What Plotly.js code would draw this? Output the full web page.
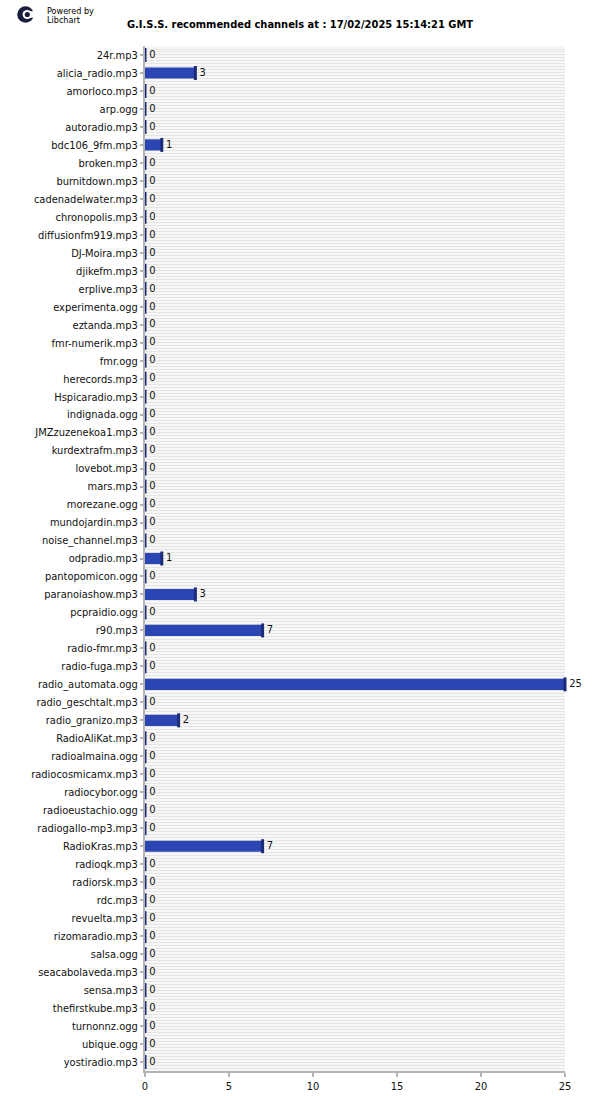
<!DOCTYPE html>
<html>
<head>
<meta charset="utf-8">
<script src="https://cdn.plot.ly/plotly-3.0.1.min.js"></script>
<style>html,body{margin:0;padding:0;background:#fff;}#chart{width:600px;height:1096px;}</style>
</head>
<body>
<div id="chart"></div>
<script>
const channels = ["24r.mp3","alicia_radio.mp3","amorloco.mp3","arp.ogg","autoradio.mp3","bdc106_9fm.mp3","broken.mp3","burnitdown.mp3","cadenadelwater.mp3","chronopolis.mp3","diffusionfm919.mp3","DJ-Moira.mp3","djikefm.mp3","erplive.mp3","experimenta.ogg","eztanda.mp3","fmr-numerik.mp3","fmr.ogg","herecords.mp3","Hspicaradio.mp3","indignada.ogg","JMZzuzenekoa1.mp3","kurdextrafm.mp3","lovebot.mp3","mars.mp3","morezane.ogg","mundojardin.mp3","noise_channel.mp3","odpradio.mp3","pantopomicon.ogg","paranoiashow.mp3","pcpraidio.ogg","r90.mp3","radio-fmr.mp3","radio-fuga.mp3","radio_automata.ogg","radio_geschtalt.mp3","radio_granizo.mp3","RadioAliKat.mp3","radioalmaina.ogg","radiocosmicamx.mp3","radiocybor.ogg","radioeustachio.ogg","radiogallo-mp3.mp3","RadioKras.mp3","radioqk.mp3","radiorsk.mp3","rdc.mp3","revuelta.mp3","rizomaradio.mp3","salsa.ogg","seacabolaveda.mp3","sensa.mp3","thefirstkube.mp3","turnonnz.ogg","ubique.ogg","yostiradio.mp3"];
const counts = [0,3,0,0,0,1,0,0,0,0,0,0,0,0,0,0,0,0,0,0,0,0,0,0,0,0,0,0,1,0,3,0,7,0,0,25,0,2,0,0,0,0,0,0,7,0,0,0,0,0,0,0,0,0,0,0,0];
const xTicks = [0,5,10,15,20,25];
const titleText = "G.I.S.S. recommended channels at : 17/02/2025 15:14:21 GMT";

const font = "DejaVu Sans Condensed, DejaVu Sans, sans-serif";

const bars = {
  type: "bar", orientation: "h", x: counts, y: channels,
  width: 0.62,
  marker: {color: "#2b45b2", line: {width: 0}},
  hoverinfo: "skip", showlegend: false
};
const caps = {
  type: "scatter", mode: "markers", x: counts, y: channels,
  marker: {symbol: "line-ns", size: 10, color: "#1c2c78", line: {width: 3, color: "#1c2c78"}},
  cliponaxis: false, hoverinfo: "skip", showlegend: false
};
const labels = {
  type: "scatter", mode: "markers+text", x: counts, y: channels,
  text: counts.map(String), textposition: "middle right",
  textfont: {family: font, size: 11, color: "#111"},
  marker: {size: 5, color: "rgba(0,0,0,0)"},
  cliponaxis: false, hoverinfo: "skip", showlegend: false
};

const logoSvg = '<svg xmlns="http://www.w3.org/2000/svg" viewBox="0 0 17 21"><circle cx="8.5" cy="10.5" r="8.3" fill="#1b1f3e"/><circle cx="10.2" cy="10.5" r="4.6" fill="#fff"/><rect x="12" y="7.2" width="6" height="6.6" fill="#fff"/><circle cx="10.3" cy="10.5" r="2.6" fill="#1b1f3e"/></svg>';

const layout = {
  width: 600, height: 1096,
  margin: {l: 145, r: 35, t: 46, b: 25, pad: 0},
  paper_bgcolor: "#ffffff",
  plot_bgcolor: "#f7f7f7",
  font: {family: font, size: 11, color: "#222"},
  title: {text: "<b>" + titleText + "</b>", font: {family: font, size: 11, color: "#000"},
          x: 0.5, xanchor: "center", y: 1 - 24/1096, yanchor: "middle"},
  xaxis: {range: [0, 25], tickvals: xTicks, ticktext: xTicks.map(String),
          showgrid: false, zeroline: false, showline: true, linecolor: "#b4b4b4", linewidth: 2,
          ticks: "outside", ticklen: 4, tickcolor: "#b4b4b4", tickwidth: 2,
          tickfont: {family: font, size: 11, color: "#111"}, fixedrange: true},
  yaxis: {type: "category", range: [channels.length - 0.5, -0.5], autorange: false,
          showgrid: false, zeroline: false,
          showline: true, linecolor: "#b4b4b4", linewidth: 2,
          ticks: "outside", ticklen: 3, tickcolor: "#b4b4b4", tickwidth: 2,
          tickfont: {family: font, size: 11, color: "#111"}, ticklabelstandoff: 0, fixedrange: true},
  yaxis2: {overlaying: "y", range: [0, 342], dtick: 1, tick0: 0, showgrid: true,
           gridcolor: "#e4e4e4", gridwidth: 1, showticklabels: false, ticks: "",
           zeroline: false, showline: false, side: "right", fixedrange: true, layer: "below traces"},
  images: [{source: "data:image/svg+xml;utf8," + encodeURIComponent(logoSvg),
            xref: "paper", yref: "paper", x: (17-145)/420, y: (1071-4)/1025,
            sizex: 17/420, sizey: 21/1025, sizing: "stretch", xanchor: "left", yanchor: "top"}],
  annotations: [
    {text: "Powered by", xref: "paper", yref: "paper", x: (45-145)/420, y: (1071-11)/1025,
     xanchor: "left", yanchor: "middle", showarrow: false, font: {family: font, size: 9, color: "#000"}},
    {text: "Libchart", xref: "paper", yref: "paper", x: (45-145)/420, y: (1071-20)/1025,
     xanchor: "left", yanchor: "middle", showarrow: false, font: {family: font, size: 9, color: "#000"}}
  ]
};

const gridHelper = {type: "scatter", x: [null], y: [null], yaxis: "y2", hoverinfo: "skip", showlegend: false};

Plotly.newPlot("chart", [gridHelper, bars, caps, labels], layout, {displayModeBar: false, staticPlot: true});
</script>
</body>
</html>
